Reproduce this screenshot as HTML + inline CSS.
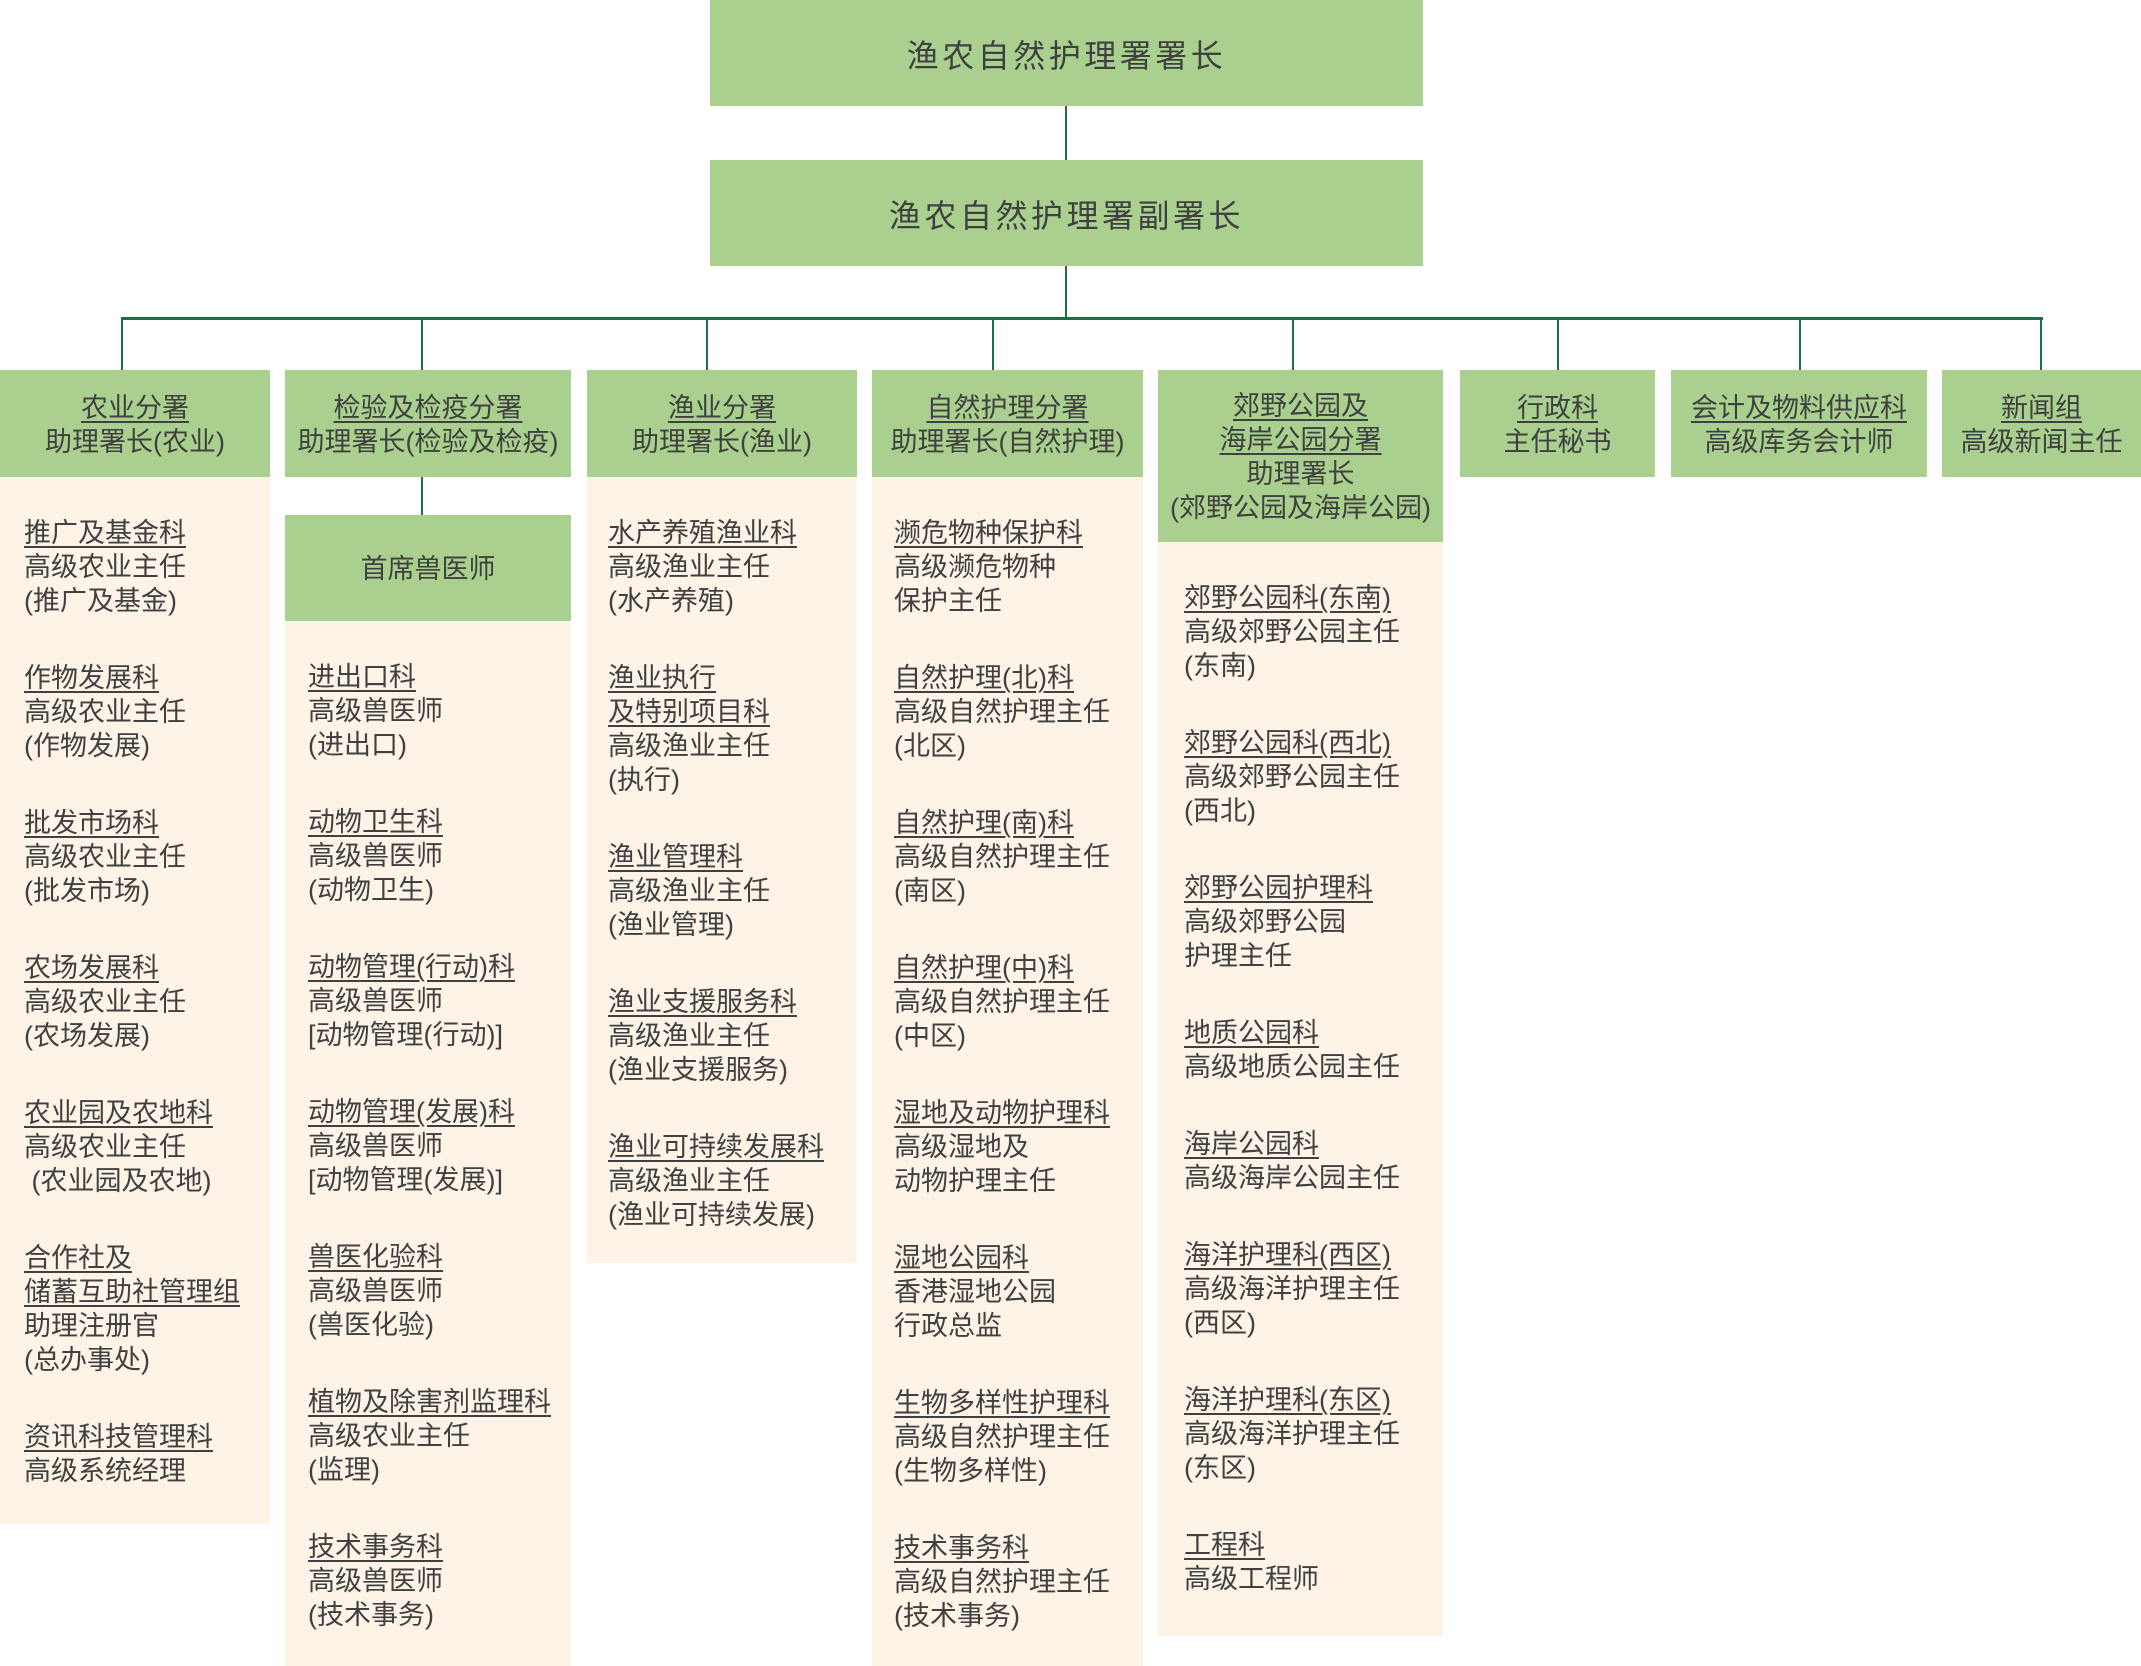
<!DOCTYPE html>
<html><head><meta charset="utf-8"><style>
body{margin:0;width:2141px;height:1666px;position:relative;background:#fff;overflow:hidden;font-family:"Liberation Sans","Noto Sans CJK SC",sans-serif;color:#404040}
.g{position:absolute;background:#a9d08e;display:flex;flex-direction:column;align-items:center;justify-content:center;text-align:center;font-size:27px;line-height:34px}
.c{position:absolute;background:#fdf3e7;box-sizing:border-box;padding-top:39px;font-size:27px;line-height:34px}
.c div{margin-bottom:43px;white-space:nowrap}
u{text-decoration:underline;text-underline-offset:4px;text-decoration-thickness:2px}
.l{position:absolute;background:#1f6e43}
.t{font-size:32px;letter-spacing:3.5px;padding-top:5px;box-sizing:border-box}
</style></head><body>
<div class="g t" style="left:710px;top:0;width:713px;height:106px">渔农自然护理署署长</div>
<div class="g t" style="left:710px;top:160px;width:713px;height:106px">渔农自然护理署副署长</div>
<div class="l" style="left:1065px;top:106px;width:2px;height:54px"></div>
<div class="l" style="left:1065px;top:266px;width:2px;height:53px"></div>
<div class="l" style="left:121px;top:317px;width:1922px;height:3px"></div>
<div class="l" style="left:121px;top:318px;width:2px;height:52px"></div>
<div class="l" style="left:421px;top:318px;width:2px;height:52px"></div>
<div class="l" style="left:706px;top:318px;width:2px;height:52px"></div>
<div class="l" style="left:992px;top:318px;width:2px;height:52px"></div>
<div class="l" style="left:1292px;top:318px;width:2px;height:52px"></div>
<div class="l" style="left:1557px;top:318px;width:2px;height:52px"></div>
<div class="l" style="left:1799px;top:318px;width:2px;height:52px"></div>
<div class="l" style="left:2040px;top:318px;width:2px;height:52px"></div>
<div class="l" style="left:421px;top:477px;width:2px;height:38px"></div>

<div class="g" style="left:0;top:370px;width:270px;height:107px;padding-top:2px;box-sizing:border-box"><u>农业分署</u>助理署长(农业)</div>
<div class="g" style="left:285px;top:370px;width:286px;height:107px;padding-top:2px;box-sizing:border-box"><u>检验及检疫分署</u>助理署长(检验及检疫)</div>
<div class="g" style="left:587px;top:370px;width:270px;height:107px;padding-top:2px;box-sizing:border-box"><u>渔业分署</u>助理署长(渔业)</div>
<div class="g" style="left:872px;top:370px;width:271px;height:107px;padding-top:2px;box-sizing:border-box"><u>自然护理分署</u>助理署长(自然护理)</div>
<div class="g" style="left:1158px;top:370px;width:285px;height:172px;padding-top:2px;box-sizing:border-box"><u>郊野公园及</u><u>海岸公园分署</u>助理署长<span>(郊野公园及海岸公园)</span></div>
<div class="g" style="left:1460px;top:370px;width:195px;height:107px;padding-top:2px;box-sizing:border-box"><u>行政科</u>主任秘书</div>
<div class="g" style="left:1671px;top:370px;width:256px;height:107px;padding-top:2px;box-sizing:border-box"><u>会计及物料供应科</u>高级库务会计师</div>
<div class="g" style="left:1942px;top:370px;width:199px;height:107px;padding-top:2px;box-sizing:border-box"><u>新闻组</u>高级新闻主任</div>
<div class="g" style="left:285px;top:515px;width:286px;height:106px;padding-top:2px;box-sizing:border-box">首席兽医师</div>

<div class="c" style="left:0;top:477px;width:270px;height:1047px;padding-left:24px">
<div><u>推广及基金科</u><br>高级农业主任<br>(推广及基金)</div>
<div><u>作物发展科</u><br>高级农业主任<br>(作物发展)</div>
<div><u>批发市场科</u><br>高级农业主任<br>(批发市场)</div>
<div><u>农场发展科</u><br>高级农业主任<br>(农场发展)</div>
<div><u>农业园及农地科</u><br>高级农业主任<br>&nbsp;(农业园及农地)</div>
<div><u>合作社及</u><br><u>储蓄互助社管理组</u><br>助理注册官<br>(总办事处)</div>
<div><u>资讯科技管理科</u><br>高级系统经理</div>
</div>
<div class="c" style="left:285px;top:621px;width:286px;height:1045px;padding-left:23px">
<div><u>进出口科</u><br>高级兽医师<br>(进出口)</div>
<div><u>动物卫生科</u><br>高级兽医师<br>(动物卫生)</div>
<div><u>动物管理(行动)科</u><br>高级兽医师<br>[动物管理(行动)]</div>
<div><u>动物管理(发展)科</u><br>高级兽医师<br>[动物管理(发展)]</div>
<div><u>兽医化验科</u><br>高级兽医师<br>(兽医化验)</div>
<div><u>植物及除害剂监理科</u><br>高级农业主任<br>(监理)</div>
<div><u>技术事务科</u><br>高级兽医师<br>(技术事务)</div>
</div>
<div class="c" style="left:587px;top:477px;width:270px;height:786px;padding-left:21px">
<div><u>水产养殖渔业科</u><br>高级渔业主任<br>(水产养殖)</div>
<div><u>渔业执行</u><br><u>及特别项目科</u><br>高级渔业主任<br>(执行)</div>
<div><u>渔业管理科</u><br>高级渔业主任<br>(渔业管理)</div>
<div><u>渔业支援服务科</u><br>高级渔业主任<br>(渔业支援服务)</div>
<div><u>渔业可持续发展科</u><br>高级渔业主任<br>(渔业可持续发展)</div>
</div>
<div class="c" style="left:872px;top:477px;width:271px;height:1189px;padding-left:22px">
<div><u>濒危物种保护科</u><br>高级濒危物种<br>保护主任</div>
<div><u>自然护理(北)科</u><br>高级自然护理主任<br>(北区)</div>
<div><u>自然护理(南)科</u><br>高级自然护理主任<br>(南区)</div>
<div><u>自然护理(中)科</u><br>高级自然护理主任<br>(中区)</div>
<div><u>湿地及动物护理科</u><br>高级湿地及<br>动物护理主任</div>
<div><u>湿地公园科</u><br>香港湿地公园<br>行政总监</div>
<div><u>生物多样性护理科</u><br>高级自然护理主任<br>(生物多样性)</div>
<div><u>技术事务科</u><br>高级自然护理主任<br>(技术事务)</div>
</div>
<div class="c" style="left:1158px;top:542px;width:285px;height:1094px;padding-left:26px">
<div><u>郊野公园科(东南)</u><br>高级郊野公园主任<br>(东南)</div>
<div><u>郊野公园科(西北)</u><br>高级郊野公园主任<br>(西北)</div>
<div><u>郊野公园护理科</u><br>高级郊野公园<br>护理主任</div>
<div><u>地质公园科</u><br>高级地质公园主任</div>
<div><u>海岸公园科</u><br>高级海岸公园主任</div>
<div><u>海洋护理科(西区)</u><br>高级海洋护理主任<br>(西区)</div>
<div><u>海洋护理科(东区)</u><br>高级海洋护理主任<br>(东区)</div>
<div><u>工程科</u><br>高级工程师</div>
</div>
</body></html>
